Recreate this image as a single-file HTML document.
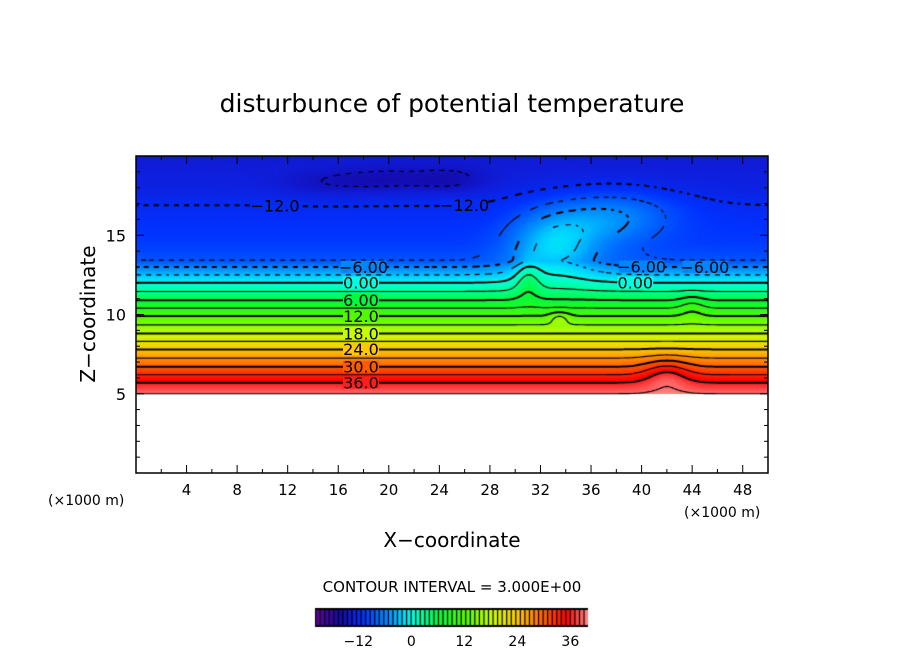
<!DOCTYPE html>
<html><head><meta charset="utf-8"><style>
body{margin:0;background:#fff;width:904px;height:654px;overflow:hidden;font-family:"DejaVu Sans","Liberation Sans",sans-serif}
#wrap{position:relative;width:904px;height:654px}
canvas{position:absolute;left:0;top:0}
svg{position:absolute;left:0;top:0}
</style></head><body>
<div id="wrap">
<canvas id="cv" width="904" height="654"></canvas>
<svg id="sv" width="904" height="654">
<text x="452" y="112" text-anchor="middle" font-size="25">disturbunce of potential temperature</text>
<text x="452" y="547" text-anchor="middle" font-size="20">X−coordinate</text>
<text transform="translate(95,314) rotate(-90)" text-anchor="middle" font-size="20">Z−coordinate</text>
<text x="48" y="505" font-size="14">(×1000 m)</text>
<text x="684" y="517" font-size="14">(×1000 m)</text>
<text x="452" y="592" text-anchor="middle" font-size="15">CONTOUR INTERVAL = 3.000E+00</text>
</svg>
</div>
<script>
// ---- data ----
const profileZ = [5.0, 5.7, 6.7, 7.8, 8.8, 9.9, 10.9, 12.0, 13.0, 13.4, 14.5, 16.9, 18.0, 20.0];
const profileTheta = [39, 36, 30, 24, 18, 12, 6, 0, -6, -9, -10.5, -12, -13, -14];
// perturbations
const bumpX = [33, 31, 38, 42, 33.5, 20, 44, 25, 15, 37];
const bumpZ = [14.5, 12.3, 16.5, 6.3, 9.8, 18.5, 10.5, 18.5, 18.3, 15.5];
const bumpSx = [3.5, 1.0, 5.0, 1.8, 0.8, 4.0, 1.0, 3.0, 4.0, 4.0];
const bumpSz = [2.0, 1.2, 1.5, 1.0, 0.4, 0.8, 0.8, 0.8, 0.8, 1.5];
const bumpA = [8, 4, 4, 4, 3, -2, 2, -2, -1.5, 2.5];
const xTicks = [4, 8, 12, 16, 20, 24, 28, 32, 36, 40, 44, 48];
const zTicks = [5, 10, 15];
const cbTicks = [-12, 0, 12, 24, 36];
const levelMin = -18, levelMax = 39, levelStep = 3;

const X0=136, X1=768, Y0=473, Y1=156;
const sx = x => X0 + (X1-X0)*x/50;
const sz = z => Y0 - (Y0-Y1)*z/20;

function field(x,z){
  let v=profileTheta[profileTheta.length-1];
  for(let i=0;i<profileZ.length-1;i++){
    if(z<=profileZ[i+1]){const t=(z-profileZ[i])/(profileZ[i+1]-profileZ[i]);v=profileTheta[i]+t*(profileTheta[i+1]-profileTheta[i]);break;}
  }
  for(let k=0;k<bumpX.length;k++){
    const dx=(x-bumpX[k])/bumpSx[k], dz=(z-bumpZ[k])/bumpSz[k];
    v+=bumpA[k]*Math.exp(-(dx*dx+dz*dz));
  }
  return v;
}
const stops=[[-22,[100,0,150]],[-16,[20,10,170]],[-13.5,[15,30,220]],[-11,[0,50,255]],[-8,[0,100,255]],[-5,[0,150,255]],[-2,[0,215,255]],[0,[0,255,225]],[3,[0,255,140]],[6,[0,250,60]],[12,[80,250,0]],[18,[200,255,0]],[24,[255,200,0]],[30,[255,90,0]],[35,[255,0,0]],[40,[255,140,140]]];
function col(v){
  if(v<=stops[0][0])return stops[0][1];
  for(let i=0;i<stops.length-1;i++){
    if(v<=stops[i+1][0]){const t=(v-stops[i][0])/(stops[i+1][0]-stops[i][0]);
      return stops[i][1].map((c,j)=>Math.round(c+t*(stops[i+1][1][j]-c)));}
  }
  return stops[stops.length-1][1];
}
const cv=document.getElementById('cv'),ctx=cv.getContext('2d');
const img=ctx.createImageData(X1-X0,Y0-Y1);
for(let py=0;py<Y0-Y1;py++)for(let px=0;px<X1-X0;px++){
  const x=px/(X1-X0)*50, z=20-py/(Y0-Y1)*20;
  const o=(py*(X1-X0)+px)*4;
  if(z<5){img.data[o]=255;img.data[o+1]=255;img.data[o+2]=255;img.data[o+3]=255;continue;}
  const c=col(field(x,z));img.data[o]=c[0];img.data[o+1]=c[1];img.data[o+2]=c[2];img.data[o+3]=255;
}
ctx.putImageData(img,X0,Y1);
const NX=250,NZ=190,dx=50/NX,dz=15/NZ;
const g=[];for(let j=0;j<=NZ;j++){g[j]=[];for(let i=0;i<=NX;i++)g[j][i]=field(i*dx,5+j*dz);}
ctx.strokeStyle='#000';
for(let L=levelMin;L<=levelMax;L+=levelStep){
  ctx.lineWidth=(L%6===0)?2:1.2;
  ctx.beginPath();
  for(let j=0;j<NZ;j++)for(let i=0;i<NX;i++){
    const a=g[j][i],b=g[j][i+1],c=g[j+1][i+1],d=g[j+1][i];
    const pts=[];
    const e=(v1,v2,x1,z1,x2,z2)=>{if((v1<L)!==(v2<L)){const t=(L-v1)/(v2-v1);pts.push([x1+t*(x2-x1),z1+t*(z2-z1)]);}};
    const x0=i*dx,z0=5+j*dz;
    e(a,b,x0,z0,x0+dx,z0);e(b,c,x0+dx,z0,x0+dx,z0+dz);e(c,d,x0+dx,z0+dz,x0,z0+dz);e(d,a,x0,z0+dz,x0,z0);
    for(let k=0;k+1<pts.length;k+=2){
      const ax=sx(pts[k][0]),ay=sz(pts[k][1]),bx=sx(pts[k+1][0]),by=sz(pts[k+1][1]);
      if(L<0){const m=(ax+bx)/2+(ay+by)/2; if(Math.floor(m/5)%2===1)continue;}
      ctx.moveTo(ax,ay);ctx.lineTo(bx,by);}
  }
  ctx.stroke();
}
const svg=document.getElementById('sv'),NS='http://www.w3.org/2000/svg';
const labLevels=[36,30,24,18,12,6,0,-6,-12,-12,-6,-6,0];
const labX=[17.8,17.8,17.8,17.8,17.8,17.8,17.8,18,11,26,40,45,39.5];
labLevels.forEach((L,idx)=>{
  const lx=labX[idx];
  let zz=5;for(let z=5;z<20;z+=0.01){if(field(lx,z)<=L){zz=z;break;}}
  const txt=(Math.abs(L)>=10?L.toFixed(1):L.toFixed(2)).replace('-','−');
  const w=txt.length*9;
  const bg=document.createElementNS(NS,'rect');
  
  
  bg.setAttribute('x',sx(lx)-w/2);bg.setAttribute('y',sz(zz)-6);bg.setAttribute('width',w);bg.setAttribute('height',12);
  const c=col(L);bg.setAttribute('fill',`rgb(${c})`);svg.appendChild(bg);
  const t=document.createElementNS(NS,'text');
  
  
  t.setAttribute('x',sx(lx));t.setAttribute('y',sz(zz)+6);t.setAttribute('text-anchor','middle');t.setAttribute('font-size','16');
  t.textContent=txt;
  svg.appendChild(t);
});
const r=document.createElementNS(NS,'rect');


r.setAttribute('x',X0);r.setAttribute('y',Y1);r.setAttribute('width',X1-X0);r.setAttribute('height',Y0-Y1);r.setAttribute('fill','none');r.setAttribute('stroke','#000');r.setAttribute('stroke-width','1.5');
svg.appendChild(r);
function line(x1,y1,x2,y2,name){const l=document.createElementNS(NS,'line');l.setAttribute('x1',x1);l.setAttribute('y1',y1);l.setAttribute('x2',x2);l.setAttribute('y2',y2);l.setAttribute('stroke','#000');


svg.appendChild(l);}
for(let x=2;x<50;x+=2){const big=x%4===0;line(sx(x),Y0,sx(x),Y0-(big?8:4),'x-tick');line(sx(x),Y1,sx(x),Y1+(big?8:4),'x-tick-top');}
for(let z=1;z<20;z++){const big=z%5===0;line(X0,sz(z),X0+(big?8:4),sz(z),'z-tick');line(X1,sz(z),X1-(big?8:4),sz(z),'z-tick-right');}
for(const x of xTicks){const t=document.createElementNS(NS,'text');


t.setAttribute('x',sx(x));t.setAttribute('y',Y0+22);t.setAttribute('text-anchor','middle');t.setAttribute('font-size','15');t.textContent=x;svg.appendChild(t);}
for(const z of zTicks){const t=document.createElementNS(NS,'text');


t.setAttribute('x',X0-10);t.setAttribute('y',sz(z)+6);t.setAttribute('text-anchor','end');t.setAttribute('font-size','16');t.textContent=z;svg.appendChild(t);}
const CB0=315,CB1=588,CBY=608,CBH=19,vmin=-21.8,vmax=40;
const cbx=v=>CB0+(CB1-CB0)*(v-vmin)/(vmax-vmin);
ctx.fillStyle='#000';ctx.fillRect(CB0,CBY,CB1-CB0,CBH);
const nStripe=60;
for(let k=0;k<nStripe;k++){const v=vmin+(k+0.5)*(vmax-vmin)/nStripe;const c=col(v);ctx.fillStyle=`rgb(${c})`;
  const xa=CB0+(CB1-CB0)*k/nStripe;ctx.fillRect(xa+1.2,CBY+2,(CB1-CB0)/nStripe-1.2,CBH-4);}
for(const v of cbTicks){const t=document.createElementNS(NS,'text');


t.setAttribute('x',cbx(v));t.setAttribute('y',CBY+CBH+19);t.setAttribute('text-anchor','middle');t.setAttribute('font-size','14');t.textContent=String(v).replace('-','−');svg.appendChild(t);}
</script>
</body></html>
